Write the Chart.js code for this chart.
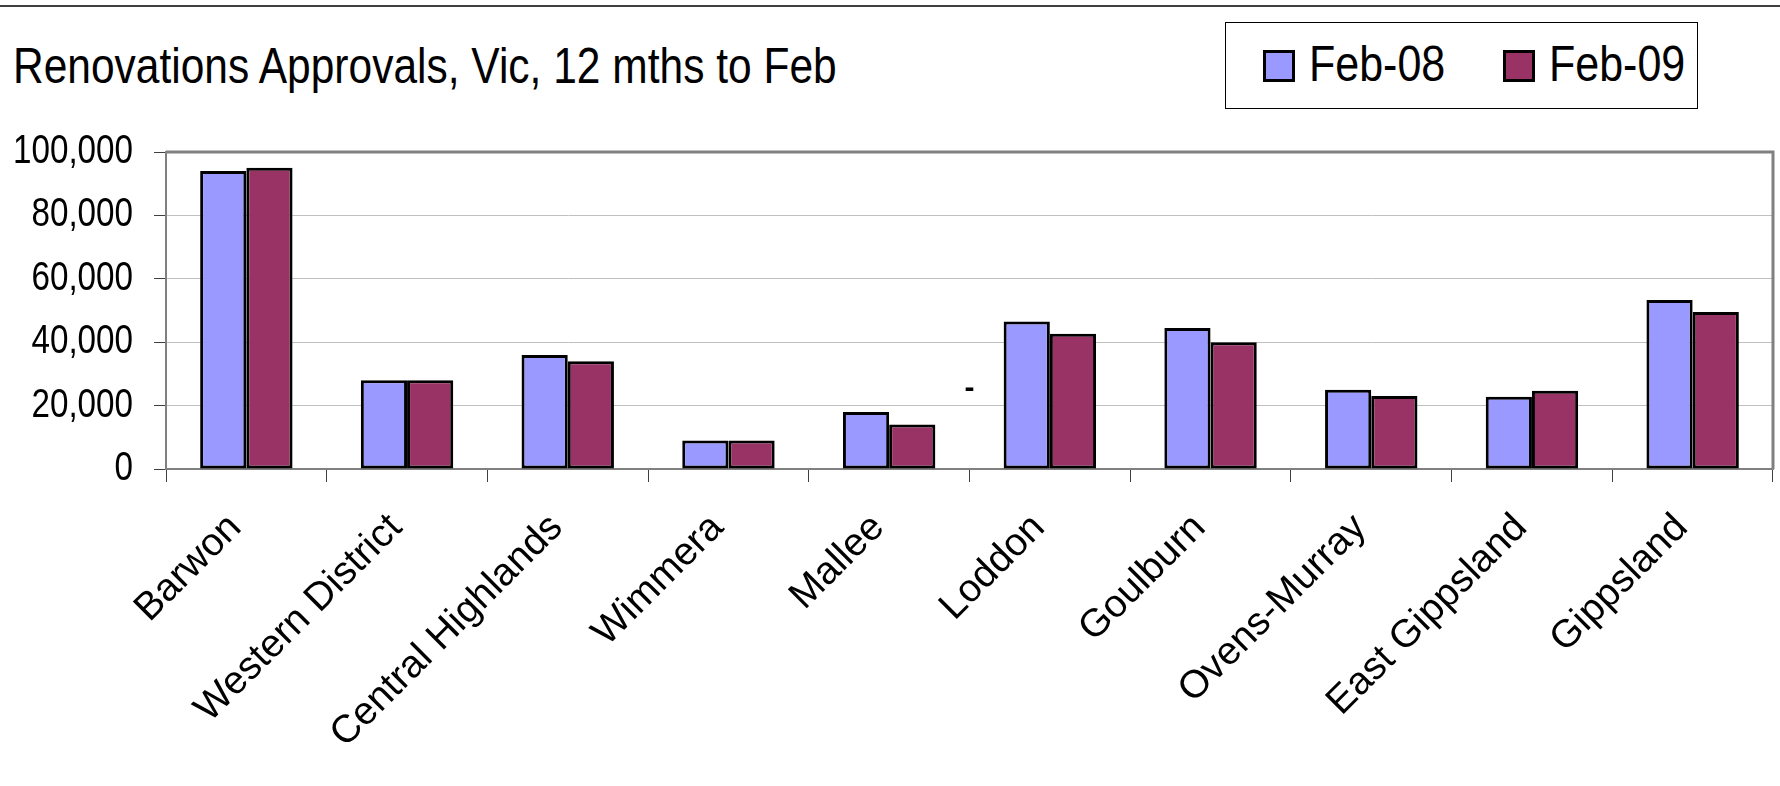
<!DOCTYPE html>
<html>
<head>
<meta charset="utf-8">
<script src="https://cdn.jsdelivr.net/npm/chart.js@4.4.1/dist/chart.umd.min.js"></script>
<style>
  body { margin: 0; background: #fff; }
  #wrap { position: relative; width: 1780px; height: 786px; overflow: hidden; }
  #topline { position: absolute; left: 0; top: 5px; width: 1780px; height: 2px; background: #404040; }
  #title { position: absolute; left: 13px; top: 41px; font: 50px/1 "Liberation Sans", Arial, sans-serif; color: #000; white-space: nowrap; transform: scaleX(0.85); transform-origin: 0 0; }
  #legend { position: absolute; left: 1225px; top: 22px; width: 473px; height: 87px; border: 1px solid #000; box-sizing: border-box; }
  .item { position: absolute; top: 0; height: 87px; }
  .box { position: absolute; top: 27px; width: 32px; height: 32px; border: 3px solid #000; box-sizing: border-box; }
  .lbl { position: absolute; left: 46px; top: 16px; font: 50px/1 "Liberation Sans", Arial, sans-serif; color: #000; white-space: nowrap; transform: scaleX(0.86); transform-origin: 0 0; }
  canvas { position: absolute; left: 0; top: 0; }
</style>
</head>
<body>
<div id="wrap">
  <div id="topline"></div>
  <div id="title">Renovations Approvals, Vic, 12 mths to Feb</div>
  <div id="legend"></div>
  <canvas id="chart" width="1780" height="786"></canvas>
</div>
<script>
var regions = ['Barwon', 'Western District', 'Central Highlands', 'Wimmera', 'Mallee',
  'Loddon', 'Goulburn', 'Ovens-Murray', 'East Gippsland', 'Gippsland'];
var feb08 = [94000, 28000, 36000, 9000, 18000, 46500, 44500, 25000, 22800, 53300];
var feb09 = [95000, 28000, 34000, 9000, 14000, 42700, 40000, 23000, 24700, 49500];
var seriesNames = ['Feb-08', 'Feb-09'];
var seriesColors = ['#9999FF', '#993366'];
// stray "-" that sits between Mallee and Loddon in the original
var strayMark = { at: 4.5, value: 25200, text: '-' };

var sans = '"Liberation Sans", Arial, sans-serif';

// legend (html, boxed like the excel one)
var legend = document.getElementById('legend');
var itemLeft = [37, 277];
seriesNames.forEach(function (name, i) {
  var item = document.createElement('div');
  item.className = 'item';
  item.style.left = itemLeft[i] + 'px';
  item.innerHTML = '<div class="box" style="background:' + seriesColors[i] + '"></div><div class="lbl">' + name + '</div>';
  legend.appendChild(item);
});

var framePlugin = {
  id: 'frame',
  afterDraw: function (chart) {
    var a = chart.chartArea, c = chart.ctx, ys = chart.scales.y;
    c.save();
    c.strokeStyle = '#808080';
    c.lineWidth = 3;
    c.beginPath();
    c.moveTo(a.left, a.top);
    c.lineTo(a.right, a.top);
    c.lineTo(a.right, a.bottom);
    c.stroke();

    // y tick labels, squeezed like arial narrow
    c.fillStyle = '#000';
    c.font = '40px ' + sans;
    c.textAlign = 'right';
    c.textBaseline = 'middle';
    ys.ticks.forEach(function (t) {
      c.save();
      c.translate(a.left - 33, ys.getPixelForValue(t.value));
      c.scale(0.83, 1);
      c.fillText(t.value.toLocaleString('en-US'), 0, 0);
      c.restore();
    });

    // the stray dash
    c.font = 'bold 30px ' + sans;
    c.textAlign = 'center';
    c.fillText(strayMark.text, chart.scales.x.getPixelForValue(strayMark.at), ys.getPixelForValue(strayMark.value));
    c.restore();
  }
};

var ctx = document.getElementById('chart');
new Chart(ctx, {
  type: 'bar',
  data: {
    labels: regions,
    datasets: [{
      label: seriesNames[0],
      data: feb08,
      backgroundColor: seriesColors[0],
      borderColor: '#000',
      borderWidth: 3,
      borderSkipped: false,
      categoryPercentage: 0.575,
      barPercentage: 1.0
    }, {
      label: seriesNames[1],
      data: feb09,
      backgroundColor: seriesColors[1],
      borderColor: '#000',
      borderWidth: 3,
      borderSkipped: false,
      categoryPercentage: 0.575,
      barPercentage: 1.0
    }]
  },
  options: {
    responsive: false,
    animation: false,
    devicePixelRatio: 1,
    layout: { padding: { top: 152, right: 7, left: 0, bottom: 0 } },
    plugins: {
      legend: { display: false },
      title: { display: false },
      tooltip: { enabled: false }
    },
    scales: {
      x: {
        grid: { offset: true, drawOnChartArea: false, tickLength: 13, color: '#404040', lineWidth: 1 },
        border: { color: '#808080', width: 2 },
        ticks: {
          autoSkip: false, maxRotation: 45, minRotation: 45, padding: 23, labelOffset: -11,
          color: '#000', font: { family: sans, size: 39 }
        },
        afterFit: function (s) { s.height = 317; }
      },
      y: {
        min: 0,
        max: 100000,
        grid: { color: '#c0c0c0', tickColor: '#404040', tickLength: 12, lineWidth: 1 },
        border: { color: '#808080', width: 2 },
        ticks: { stepSize: 20000, display: false },
        afterFit: function (s) { s.width = 166; }
      }
    }
  },
  plugins: [framePlugin]
});
</script>
</body>
</html>
